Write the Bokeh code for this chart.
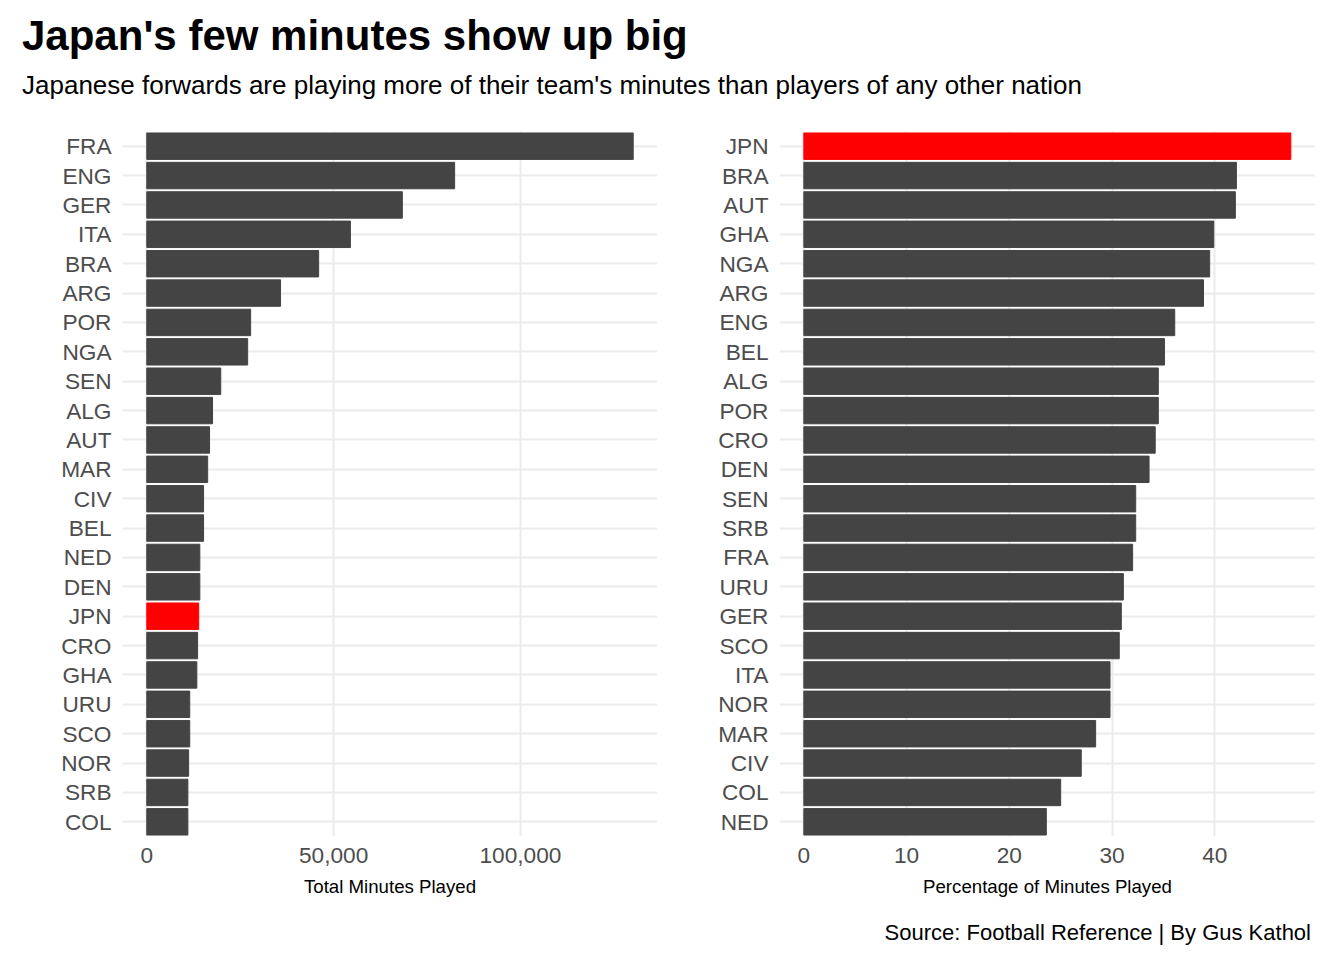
from bokeh.plotting import figure
from bokeh.layouts import column, row
from bokeh.models import Div, NumeralTickFormatter, FixedTicker
from bokeh.embed import file_html
from bokeh.resources import INLINE

# Total minutes (left panel)
tot_teams = ['FRA', 'ENG', 'GER', 'ITA', 'BRA', 'ARG', 'POR', 'NGA', 'SEN', 'ALG', 'AUT', 'MAR',
             'CIV', 'BEL', 'NED', 'DEN', 'JPN', 'CRO', 'GHA', 'URU', 'SCO', 'NOR', 'SRB', 'COL']
tot_minutes = [130200, 82400, 68400, 54500, 46000, 35800, 27800, 27000, 19800, 17600, 16800, 16300,
               15200, 15200, 14200, 14200, 13900, 13600, 13400, 11500, 11500, 11200, 11000, 11000]

# Percentage of minutes (right panel)
pct_teams = ['JPN', 'BRA', 'AUT', 'GHA', 'NGA', 'ARG', 'ENG', 'BEL', 'ALG', 'POR', 'CRO', 'DEN',
             'SEN', 'SRB', 'FRA', 'URU', 'GER', 'SCO', 'ITA', 'NOR', 'MAR', 'CIV', 'COL', 'NED']
pct_minutes = [47.4, 42.1, 42.0, 39.9, 39.5, 38.9, 36.1, 35.1, 34.5, 34.5, 34.2, 33.6,
               32.3, 32.3, 32.0, 31.1, 30.9, 30.7, 29.8, 29.8, 28.4, 27.0, 25.0, 23.6]

FONT = "Liberation Sans"
GREY = "#444444"


def panel(teams, vals, xr, ticks, label, fmt, frame_w, min_left):
    p = figure(y_range=list(reversed(teams)), x_range=xr, frame_width=frame_w, frame_height=705,
               output_backend="svg", toolbar_location=None, min_border_left=min_left,
               min_border_right=0, min_border_top=0)
    colors = ["red" if t == "JPN" else GREY for t in teams]
    p.hbar(y=teams, right=vals, height=0.9, color=colors)
    p.outline_line_color = None
    p.axis.axis_line_color = None
    p.axis.major_tick_line_color = None
    p.axis.minor_tick_line_color = None
    p.axis.major_label_text_font = FONT
    p.axis.major_label_text_font_size = "17pt"
    p.axis.major_label_text_color = "#4d4d4d"
    p.xaxis.ticker = FixedTicker(ticks=ticks)
    p.xaxis.formatter = NumeralTickFormatter(format=fmt)
    p.xaxis.axis_label = label
    p.xaxis.axis_label_text_font = FONT
    p.xaxis.axis_label_text_font_style = "normal"
    p.xaxis.axis_label_text_font_size = "14pt"
    p.xaxis.axis_label_text_color = "black"
    p.xaxis.axis_label_standoff = 10
    p.grid.grid_line_color = "#ebebeb"
    p.grid.grid_line_width = 2
    return p


p1 = panel(tot_teams, tot_minutes, (-6500, 136700), [0, 50000, 100000],
           "Total Minutes Played", "0,0", 535, 90)
p2 = panel(pct_teams, pct_minutes, (-2.37, 49.8), [0, 10, 20, 30, 40],
           "Percentage of Minutes Played", "0", 536, 75)

title = Div(text="Japan's few minutes show up big", width=1300,
            styles={"font-family": FONT, "font-size": "42px", "font-weight": "bold",
                    "color": "black", "margin-left": "22px", "margin-top": "6px"})
subtitle = Div(text="Japanese forwards are playing more of their team's minutes than players of any other nation",
               width=1300, styles={"font-family": FONT, "font-size": "26px", "color": "black",
                                   "margin-left": "22px", "margin-top": "-4px"})
source = Div(text="Source: Football Reference | By Gus Kathol", width=1306,
             styles={"font-family": FONT, "font-size": "22px", "color": "black",
                     "text-align": "right", "margin-top": "18px"})

plots = row(p1, p2, spacing=47, styles={"margin-left": "32px", "margin-top": "22px"})
layout = column(title, subtitle, plots, source)
open("out.html", "w").write(file_html(layout, INLINE))
